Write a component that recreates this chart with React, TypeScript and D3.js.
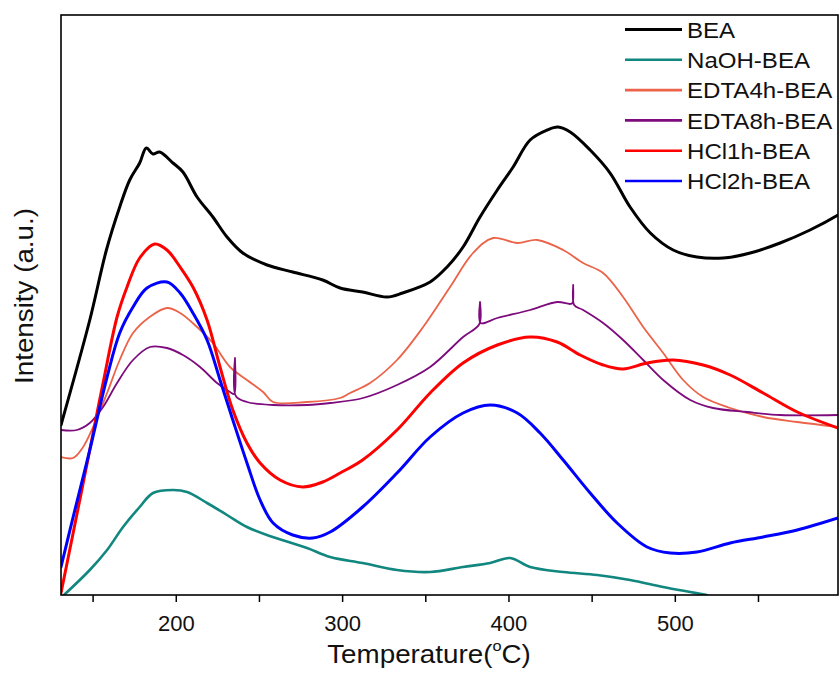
import React from 'react';
import * as d3 from 'd3';

// Temperature (°C) vs intensity (arbitrary units)
const bea: [number, number][] = [
  [130.7, 170], [148, 275], [158, 345], [166, 388], [172, 415], [178, 432], [182, 447], [186, 441], [190, 443],
  [198, 432], [204, 423], [212.5, 398], [222, 378], [230.5, 358], [240, 342], [254.6, 330], [270, 323],
  [288, 315], [298.5, 307], [312, 303], [326.7, 298], [336, 302], [352.6, 313], [362.8, 328], [372.4, 348],
  [382.6, 378], [393, 405], [402.5, 428], [412.7, 455], [423, 465], [429.5, 468], [436.8, 463], [448.8, 445],
  [460.8, 422], [472.8, 388], [485, 362], [498.7, 345], [513, 338], [528.8, 337], [545, 342], [563, 352],
  [581, 365], [597.8, 380],
];
const naoh: [number, number][] = [
  [132.5, 0], [148, 25], [158.4, 45], [168, 68], [178, 88], [186, 102], [198, 105], [206.5, 103], [218.5, 92],
  [230.5, 80], [242.5, 68], [258, 58], [278.6, 47], [292.5, 38], [312, 32], [332.7, 25], [352.6, 23],
  [372.4, 28], [388.7, 32], [400.7, 37], [412.7, 28], [432.6, 23], [453, 20], [472.8, 15], [492.7, 8],
  [509, 3], [519, 0],
];
const edta4h: [number, number][] = [
  [130.7, 138], [138, 137], [144, 148], [150, 168], [158.4, 202], [166, 235], [174, 262], [184, 278],
  [194.4, 287], [202.3, 282], [212.5, 268], [222, 252], [232.3, 228], [242.5, 215], [252.2, 203], [258.2, 193],
  [278.6, 193], [298.5, 197], [304.5, 202], [316.5, 212], [332.7, 235], [348.4, 268], [364.6, 308],
  [378.4, 342], [390.5, 357], [405, 352], [417, 355], [432.6, 345], [444.6, 332], [456.6, 322], [468.6, 298],
  [480.7, 268], [492.7, 242], [504.7, 215], [516.7, 198], [533, 187], [552.8, 178], [573.3, 173], [597.8, 168],
];
const edta8h: [number, number][] = [
  [130.7, 165], [140.3, 165], [148, 172], [156, 188], [164.4, 212], [174, 235], [184.2, 248], [194.4, 247],
  [204, 240], [214.3, 228], [224.5, 212], [232.3, 203], [234.8, 201], [235.3, 237], [235.8, 199], [242.5, 193],
  [258.2, 190], [278.6, 190], [292.5, 192], [312.3, 197], [332.7, 210], [352.6, 228], [372.4, 258],
  [382.2, 271], [382.6, 293], [383, 272], [393, 277], [412.7, 285], [429, 293], [436.8, 291],
  [438.2, 292], [438.6, 310], [439.2, 290], [444.6, 285], [456.6, 272], [468.6, 255], [480.7, 235],
  [492.7, 215], [509, 195], [522.7, 187], [543.2, 183], [563, 180], [597.8, 180],
];
const hcl1h: [number, number][] = [
  [130.7, 2], [138, 62], [148, 145], [156, 212], [164.4, 278], [170.4, 308], [178, 337], [187, 351],
  [194.4, 345], [202.3, 328], [210, 308], [218.5, 275], [226.3, 228], [234, 185], [242.5, 152], [250.4, 132],
  [262.4, 115], [276, 108], [288, 113], [298.5, 122], [312, 135], [332.7, 165], [352.6, 202], [372.4, 232],
  [393, 250], [412.7, 258], [429, 253], [442.8, 240], [456.6, 230], [468.6, 226], [483, 232], [498.7, 235],
  [516.7, 230], [533, 220], [552.8, 202], [573.3, 183], [597.8, 167],
];
const hcl2h: [number, number][] = [
  [130.7, 28], [138, 78], [148, 145], [158.4, 218], [166, 262], [174, 288], [182.4, 307], [194.4, 313],
  [202.3, 302], [210, 282], [218.5, 255], [226.3, 215], [234, 175], [242.5, 132], [250.4, 95], [258.2, 72],
  [270, 60], [282, 57], [292.5, 63], [312, 88], [332.7, 122], [352.6, 158], [372.4, 182], [388.7, 190],
  [405, 182], [418.7, 162], [432.6, 135], [448.8, 102], [465, 72], [483, 48], [497, 42], [513, 43],
  [533, 52], [552.8, 58], [573.3, 65], [597.8, 77],
];

const seriesNames = ['BEA', 'NaOH-BEA', 'EDTA4h-BEA', 'EDTA8h-BEA', 'HCl1h-BEA', 'HCl2h-BEA'];
const seriesData = [bea, naoh, edta4h, edta8h, hcl1h, hcl2h];
const seriesColors = ['#000000', '#11877f', '#eb6349', '#7d0b7d', '#ff0000', '#0000ff'];
const seriesWidths = [3, 2.6, 1.8, 1.8, 3, 3];

const majorTicks = [200, 300, 400, 500];
const minorTicks = [150, 250, 350, 450, 550];

const X0 = 61, X1 = 838, Y0 = 15, Y1 = 595;

export default function App() {
  const x = d3.scaleLinear().domain([130.7, 597.8]).range([X0, X1]);
  const y = d3.scaleLinear().domain([0, 580]).range([Y1, Y0]);
  const line = d3.line<[number, number]>()
    .x((d) => x(d[0]))
    .y((d) => y(d[1]))
    .curve(d3.curveCatmullRom.alpha(0.5));

  const font = 'Arial, "Liberation Sans", sans-serif';
  const sx = 1.09;

  return (
    <svg width={840} height={675} style={{ position: 'absolute', left: 0, top: 0, background: '#fff' }}
      fontFamily={font}>
      <defs>
        <clipPath id="plotClip">
          <rect x={X0} y={Y0} width={X1 - X0} height={Y1 - Y0} />
        </clipPath>
      </defs>
      <rect x={0} y={0} width={840} height={675} fill="#fff" />
      <g clipPath="url(#plotClip)">
        {seriesData.map((d, i) => (
          <path key={i} d={line(d) || ''} fill="none" stroke={seriesColors[i]}
            strokeWidth={seriesWidths[i]} strokeLinejoin="round" strokeLinecap="round" />
        ))}
      </g>
      <rect x={X0} y={Y0} width={X1 - X0} height={Y1 - Y0} fill="none" stroke="#000" strokeWidth={1.6} />
      {[...majorTicks, ...minorTicks].map((t) => (
        <line key={t} x1={x(t)} x2={x(t)} y1={Y1} y2={Y1 + 7} stroke="#000" strokeWidth={1.5} />
      ))}
      {majorTicks.map((t) => (
        <text key={t} x={x(t)} y={631} textAnchor="middle" fontSize={22} fill="#111">{t}</text>
      ))}
      <text transform={`translate(429,663) scale(${sx},1)`} textAnchor="middle" fontSize={25.5} fill="#111">
        Temperature(<tspan fontSize={15} dy={-12}>o</tspan><tspan dy={12}>C)</tspan>
      </text>
      <text transform={`translate(33,296) rotate(-90) scale(${sx},1)`} textAnchor="middle" fontSize={25.5} fill="#111">
        Intensity (a.u.)
      </text>
      <g>
        {seriesNames.map((n, i) => {
          const cy = 29.5 + i * 30.3;
          return (
            <g key={n}>
              <line x1={625} x2={682} y1={cy} y2={cy} stroke={seriesColors[i]} strokeWidth={i === 0 ? 3.2 : 2.6} />
              <text transform={`translate(687,${cy + 8.3}) scale(1.12,1)`} fontSize={21.5} fill="#111">{n}</text>
            </g>
          );
        })}
      </g>
    </svg>
  );
}
